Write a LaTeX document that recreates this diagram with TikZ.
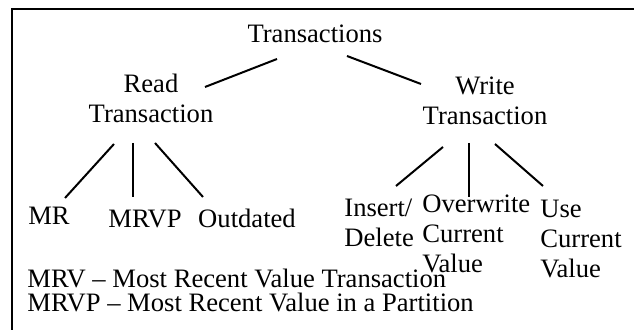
\documentclass[tikz,border=0pt]{standalone}
\usepackage{fontspec}
\setmainfont{Liberation Serif}
\usepackage{tikz}

\begin{document}
\begin{tikzpicture}[x=0.5pt, y=-0.5pt,
	every node/.style={inner sep=0pt, anchor=base, font=\fontsize{13.3}{15}\selectfont},
	branch/.style={-, line width=1pt}]
	
	\useasboundingbox (0,0) rectangle (634,330);
	\draw[line width=1pt] (12,340) |- (644,9);
	
	\node (root) at (315,43) {Transactions};
	\node[align=center] (read) at (151,123) {Read\\Transaction};
	\node[align=center] (write) at (485,125) {Write\\Transaction};
	
	\node (mr) at (49,225) {MR};
	\node (mrvp) at (145,228) {MRVP};
	\node (outd) at (247,228) {Outdated};
	
	\node[anchor=base west, align=left] (ins) at (344,247) {Insert/\\Delete};
	\node[anchor=base west, align=left] (over) at (422,273) {Overwrite\\Current\\Value};
	\node[anchor=base west, align=left] (use) at (540,278) {Use\\Current\\Value};
	
	\node[anchor=base west, align=left, font=\fontsize{13.3}{12}\selectfont] (legend) at (27,312)
		{MRV -- Most Recent Value Transaction\\MRVP -- Most Recent Value in a Partition};
	
	\path[branch] ([shift={(-38,16)}]root.base) edge ([shift={(54,-36)}]read.base);
	\path[branch] ([shift={(32,13)}]root.base) edge ([shift={(-64,-41)}]write.base);
	\path[branch] ([shift={(-37,21)}]read.base) edge ([shift={(16,-27)}]mr.base);
	\path[branch] ([shift={(-18,20)}]read.base) edge ([shift={(-12,-31)}]mrvp.base);
	\path[branch] ([shift={(4,20)}]read.base) edge ([shift={(-44,-31)}]outd.base);
	\path[branch] ([shift={(-42,22)}]write.base) edge ([shift={(52,-61)}]ins.base west);
	\path[branch] ([shift={(-16,18)}]write.base) edge ([shift={(47,-76)}]over.base west);
	\path[branch] ([shift={(10,19)}]write.base) edge ([shift={(3,-92)}]use.base west);
	\end{tikzpicture}
\end{document}
